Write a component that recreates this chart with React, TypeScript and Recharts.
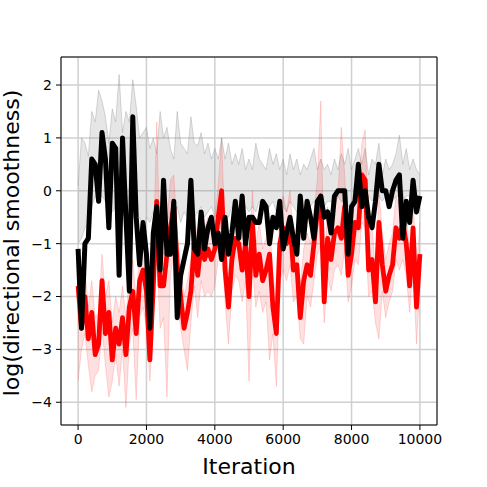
import React from 'react';
import { ComposedChart, Line, Area, XAxis, YAxis, CartesianGrid, ReferenceLine, Label } from 'recharts';

// sampled every 100 iterations, 0..10000
const STEP = 100;

const BLACK = [
  -1.1, -2.6, -1.0, -0.9, 0.6, 0.5, -0.2, 1.1, 0.6, -0.7,
  0.9, 0.8, -1.6, 1.0, -0.5, -1.9, 1.4, -0.5, -1.4, -0.6,
  -1.2, -2.6, -0.8, -0.3, -1.5, 0.2, -1.2, -1.2, -0.2, -2.4,
  -1.6, -1.3, -1.0, 0.2, -1.1, -1.2, -0.4, -1.1, -0.7, -0.5,
  -1.0, -0.8, -1.3, -0.5, -1.2, -0.8, -0.2, -0.9, -0.1, -1.0,
  -0.5, -0.5, -0.6, -0.6, -0.2, -0.3, -1.0, -0.5, -0.7, -0.2,
  -1.1, -0.8, -0.5, -0.9, -1.2, -0.1, -0.9, -0.2, -0.5, -0.9,
  -0.2, -0.1, -0.5, -0.4, -0.8, -0.1, 0.0, 0.0, 0.0, -1.2,
  -0.3, -0.2, 0.5, -0.3, 0.0, -0.5, -0.7, -0.2, 0.5, 0.0,
  0.0, -0.3, 0.0, 0.2, 0.3, -0.9, -0.2, -0.6, 0.2, -0.4,
  -0.1,
];

const RED = [
  -1.8, -2.6, -2.0, -2.8, -2.3, -3.1, -2.9, -1.7, -2.7, -2.3,
  -3.2, -2.6, -2.9, -2.4, -3.1, -2.2, -1.9, -2.7, -1.7, -1.5,
  -1.9, -3.2, -1.8, -0.2, -1.8, -1.8, -1.2, -0.7, -0.3, -1.4,
  -2.0, -2.6, -2.3, -1.9, -1.0, -1.6, -1.0, -1.3, -1.1, -1.3,
  -1.1, -0.5, 0.0, -1.5, -2.2, -1.3, -0.9, -1.0, -1.5, -1.0,
  -2.0, -0.6, -1.6, -1.2, -1.7, -1.5, -1.2, -2.2, -2.7, -1.0,
  -0.7, -1.0, -0.6, -1.5, -1.4, -2.4, -1.7, -1.4, -1.6, -1.0,
  -0.4, -0.1, -2.1, -0.9, -1.3, -0.8, -0.7, -0.9, -0.3, -1.6,
  -1.2, -0.6, -0.7, 0.3, 0.2, -1.5, -1.3, -2.1, -0.6, -1.4,
  -1.9, -1.6, -1.4, -0.7, -0.9, -0.6, -1.0, -1.8, -0.7, -2.2,
  -1.2,
];

const GRAY_HI = [
  0.1, 1.0, 0.9, 0.65, 1.5, 1.3, 1.9, 1.7, 1.4, 0.9,
  1.55, 1.3, 2.2, 1.1, 1.5, 1.3, 2.1, 1.6, 1.0, 1.1,
  1.2, 0.8, 1.0, 0.7, 1.5, 1.0, 1.2, 0.8, 0.6, 1.5,
  0.9, 0.8, 0.7, 1.4, 0.9, 0.85, 1.1, 0.7, 0.9, 0.6,
  0.8, 0.6, 1.0, 0.6, 0.9, 0.5, 0.7, 0.5, 0.8, 0.4,
  0.6, 0.4, 0.9, 0.6, 0.5, 0.4, 0.8, 0.5, 0.7, 0.4,
  0.6, 0.3, 0.7, 0.4, 0.6, 0.3, 0.5, 0.4, 0.6, 0.8,
  0.4, 0.6, 0.4, 0.5, 0.3, 0.6, 0.4, 0.7, 0.5, 0.8,
  0.4, 0.6, 0.8, 0.5, 0.8, 0.3, 0.6, 0.5, 0.9, 0.3,
  0.6, 0.4, 0.5, 0.7, 1.05, 0.5, 0.8, 0.4, 0.6, 0.4,
  0.3,
];

const GRAY_LO = [
  -1.0, -0.9, -0.7, -0.6, -0.3, -0.1, -0.15, -0.1, -0.2, -0.3,
  -0.4, -0.3, -0.5, -0.4, -0.6, -0.5, -0.4, -0.6, -0.5, -0.7,
  -0.5, -0.6, -0.4, -0.6, -0.5, -0.3, -0.6, -0.4, -0.5, -0.3,
  -0.6, -0.4, -0.5, -0.3, -0.5, -0.4, -0.3, -0.5, -0.4, -0.3,
  -0.5, -0.4, -0.3, -0.4, -0.5, -0.3, -0.4, -0.3, -0.4, -0.3,
  -0.4, -0.3, -0.4, -0.2, -0.3, -0.4, -0.3, -0.2, -0.4, -0.3,
  -0.3, -0.4, -0.2, -0.3, -0.4, -0.2, -0.3, -0.2, -0.3, -0.2,
  -0.3, -0.2, -0.3, -0.2, -0.2, -0.3, -0.1, -0.2, -0.2, -0.3,
  -0.2, -0.1, -0.2, -0.1, -0.2, -0.1, -0.2, -0.1, -0.1, -0.2,
  -0.1, -0.1, -0.2, -0.1, -0.1, -0.2, -0.1, -0.1, -0.1, -0.2,
  -0.1,
];

const PINK_HI = [
  -1.2, -1.9, -1.5, -2.2, -1.7, -2.4, -2.3, -1.2, -2.0, -1.7,
  -2.5, -2.0, -2.3, -1.8, -2.4, -1.6, -1.3, -2.1, -1.1, -0.9,
  -1.3, -2.5, -1.2, 1.3, -1.2, -1.2, -0.6, 0.2, 0.3, -0.8,
  -1.4, -2.0, -1.7, -1.3, -0.4, -1.0, -0.4, -0.7, -0.5, -0.7,
  -0.5, 0.1, 1.0, -0.9, -1.6, -0.7, -0.3, -0.4, -0.9, -0.4,
  -1.4, 0.0, -1.0, -0.6, -1.1, -0.9, -0.6, -1.6, -2.1, -0.4,
  -0.1, -0.4, 0.0, -0.9, -0.8, -1.8, -1.1, -0.8, -1.0, -0.4,
  0.2, 1.7, -1.5, -0.3, -0.7, -0.2, -0.1, 1.2, 0.3, -1.0,
  -0.6, 0.0, -0.1, 0.9, 1.15, -0.9, -0.7, -1.5, 0.0, -0.8,
  -1.3, -1.0, -0.8, -0.1, -0.3, 0.0, -0.4, -1.2, -0.1, -1.6,
  -0.6,
];

const PINK_LO = [
  -3.6, -3.0, -2.7, -3.3, -3.8, -3.5, -3.4, -2.6, -3.3, -3.9,
  -3.6, -3.1, -3.7, -3.0, -4.1, -2.9, -2.6, -3.95, -2.4, -2.2,
  -2.6, -3.6, -2.5, -1.2, -2.6, -2.4, -3.9, -1.6, -1.2, -2.1,
  -2.6, -3.0, -3.4, -2.5, -1.8, -2.4, -1.7, -2.0, -1.9, -2.0,
  -1.8, -1.3, -0.9, -2.1, -2.9, -1.9, -1.6, -1.7, -2.1, -1.7,
  -3.6, -1.4, -2.2, -1.9, -2.3, -2.1, -3.2, -2.7, -3.7, -1.7,
  -1.5, -1.7, -1.4, -2.1, -2.0, -2.8, -2.9, -2.0, -2.2, -1.7,
  -1.2, -1.0, -2.5, -1.6, -1.9, -1.5, -1.4, -1.6, -1.1, -2.1,
  -1.8, -1.3, -1.4, -0.6, -0.7, -2.0, -1.9, -2.5, -2.8, -1.9,
  -2.4, -2.1, -1.9, -1.3, -1.5, -1.3, -1.6, -2.3, -1.4, -2.9,
  -1.8,
];

const X_TICKS = [0, 2000, 4000, 6000, 8000, 10000];
const Y_TICKS = [-4, -3, -2, -1, 0, 1, 2];
const X_DOMAIN = [-500, 10500];
const Y_DOMAIN = [-4.43, 2.53];

const rows = BLACK.map((b, i) => ({
  iter: i * STEP,
  black: b,
  red: RED[i],
  gray: [GRAY_LO[i], GRAY_HI[i]],
  pink: [PINK_LO[i], PINK_HI[i]],
}));

const FONT = 'DejaVu Sans';
const tickStyle = { fill: '#000', fontSize: 14, fontFamily: FONT };
const minus = (v: number) => String(v).replace('-', '\u2212');

export default function App() {
  return (
    <div style={{ position: 'absolute', left: 0, top: 0, width: 487, height: 487, background: '#fff' }}>
      <ComposedChart width={487} height={487} data={rows} margin={{ top: 57, right: 50, bottom: 0, left: 0 }}>
        <CartesianGrid stroke="#d0d0d0" strokeWidth={1.5} />
        <XAxis
          dataKey="iter"
          type="number"
          domain={X_DOMAIN}
          ticks={X_TICKS}
          allowDataOverflow
          height={62}
          tickSize={5}
          tickMargin={4}
          stroke="#000"
          tick={tickStyle}
        >
          <Label
            content={({ viewBox }: any) => (
              <text x={viewBox.x + viewBox.width / 2} y={474} textAnchor="middle" fontSize={22} fontFamily={FONT} fill="#000">
                Iteration
              </text>
            )}
          />
        </XAxis>
        <YAxis
          type="number"
          domain={Y_DOMAIN}
          ticks={Y_TICKS}
          allowDataOverflow
          width={61}
          tickSize={5}
          tickMargin={4}
          stroke="#000"
          tick={tickStyle}
          tickFormatter={minus}
        >
          <Label
            content={() => (
              <text x={19} y={243} transform="rotate(-90, 19, 243)" textAnchor="middle" fontSize={22} fontFamily={FONT} fill="#000">
                log(directional smoothness)
              </text>
            )}
          />
        </YAxis>
        <Area
          dataKey="gray"
          type="linear"
          fill="#808080"
          fillOpacity={0.2}
          stroke="#808080"
          strokeOpacity={0.3}
          strokeWidth={1}
          isAnimationActive={false}
          activeDot={false}
        />
        <Area
          dataKey="pink"
          type="linear"
          fill="#ff0000"
          fillOpacity={0.12}
          stroke="#ff0000"
          strokeOpacity={0.15}
          strokeWidth={1}
          isAnimationActive={false}
          activeDot={false}
        />
        <Line dataKey="red" type="linear" stroke="#ff0000" strokeWidth={4.8} dot={false} strokeLinejoin="round" isAnimationActive={false} />
        <Line dataKey="black" type="linear" stroke="#000" strokeWidth={5} dot={false} strokeLinejoin="round" isAnimationActive={false} />
        <ReferenceLine x={X_DOMAIN[1]} stroke="#000" ifOverflow="visible" />
        <ReferenceLine y={Y_DOMAIN[1]} stroke="#000" ifOverflow="visible" />
      </ComposedChart>
    </div>
  );
}
